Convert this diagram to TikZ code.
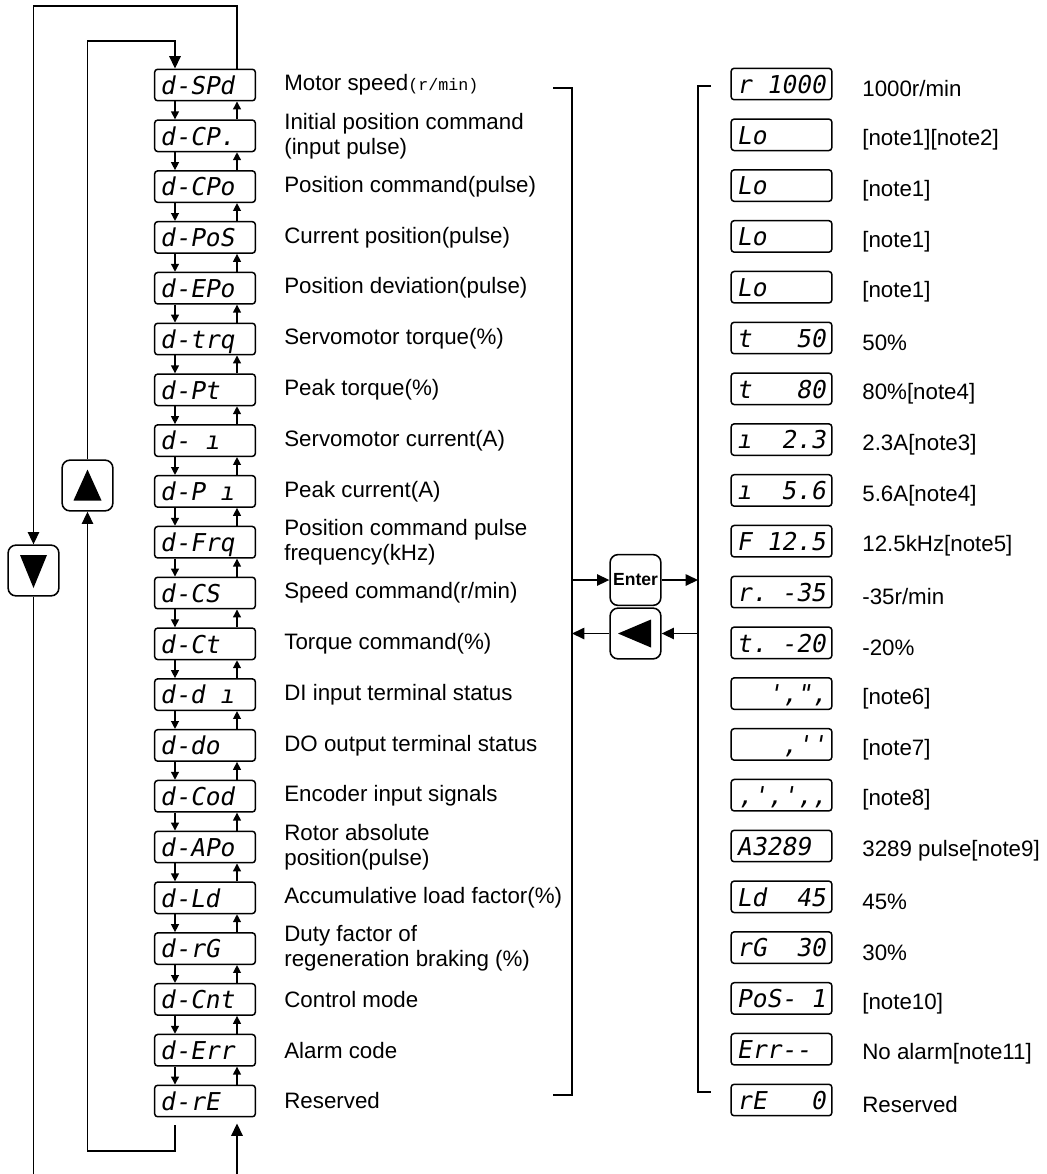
\documentclass[tikz,border=0pt]{standalone}
\usepackage{fontspec}
\setmainfont{Liberation Sans}
\newfontfamily\segfont{DejaVu Sans Mono}[FakeSlant=0.18]
\newfontfamily\unitfont{Liberation Mono}
\newcommand\cellgap{\phantom{0}}
\usetikzlibrary{arrows.meta,calc}
\tikzset{
  dispbox/.style={draw,line width=0.85pt,rounded corners=1.7pt,minimum width=57.3pt,minimum height=17.9pt,text width=51pt,align=left,inner xsep=3pt,inner ysep=0pt,text height=10.5pt,text depth=0pt,font=\segfont\fontsize{14}{14}\selectfont},
  desctext/.style={anchor=west,align=left,inner sep=0pt,font=\fontsize{12.7}{14.2}\selectfont},
  keybtn/.style={draw,line width=0.9pt,rounded corners=4.5pt,minimum width=28.9pt,minimum height=28.9pt,inner sep=0pt},
  arrow/.style={-{Triangle[length=7pt,width=6.5pt]},line width=0.75pt},
  thinArrow/.style={-{Triangle[length=4.5pt,width=4.5pt]},line width=0.75pt}
}

\begin{document}
\begin{tikzpicture}[x=0.02cm,y=-0.02cm]
\useasboundingbox (0,0) rectangle (1047,1174);
\coordinate (dnx) at (175,0);
\coordinate (upx) at (237,0);
% parameter list on the left
\foreach \i/\code/\desc in {
  0/d-SPd/{Motor speed{\unitfont\fontsize{9.5}{12}\selectfont(r/min)}},
  1/d-CP./{Initial position command\\(input pulse)},
  2/d-CPo/Position command(pulse),
  3/d-PoS/Current position(pulse),
  4/d-EPo/Position deviation(pulse),
  5/d-trq/Servomotor torque(\%),
  6/d-Pt/Peak torque(\%),
  7/d-\cellgap ı/Servomotor current(A),
  8/d-P\cellgap ı/Peak current(A),
  9/d-Frq/{Position command pulse\\frequency(kHz)},
  10/d-CS/{Speed command(r/min)},
  11/d-Ct/Torque command(\%),
  12/d-d\cellgap ı/DI input terminal status,
  13/d-do/DO output terminal status,
  14/d-Cod/Encoder input signals,
  15/d-APo/{Rotor absolute\\position(pulse)},
  16/d-Ld/Accumulative load factor(\%),
  17/d-rG/{Duty factor of\\regeneration braking (\%)},
  18/d-Cnt/Control mode,
  19/d-Err/Alarm code,
  20/d-rE/Reserved}{
  \node[dispbox] (L\i) at (205,{85+50.8*\i}) {\code};
  \node[desctext] (D\i) at (284,{85+50.8*\i}) {\desc};
}
% displayed values on the right
\foreach \i/\code/\val in {
  0/r\cellgap 1000/{1000r/min},
  1/Lo/[note1][note2],
  2/Lo/[note1],
  3/Lo/[note1],
  4/Lo/[note1],
  5/t\cellgap\cellgap\cellgap 50/50\%,
  6/t\cellgap\cellgap\cellgap 80/80\%[note4],
  7/ı\cellgap\cellgap 2.3/2.3A[note3],
  8/ı\cellgap\cellgap 5.6/5.6A[note4],
  9/F\cellgap 12.5/12.5kHz[note5],
  10/r.\cellgap-35/{-35r/min},
  11/t.\cellgap-20/-20\%,
  12/{\hfill ',",}/[note6],
  13/{\hfill ,''}/[note7],
  14/{\hfill ,',',,}/[note8],
  15/A3289/3289 pulse[note9],
  16/Ld\cellgap\cellgap 45/45\%,
  17/rG\cellgap\cellgap 30/30\%,
  18/PoS-\cellgap 1/[note10],
  19/Err--/No alarm[note11],
  20/rE\cellgap\cellgap\cellgap 0/Reserved}{
  \node[dispbox] (R\i) at (781.5,{84+50.8*\i}) {\code};
  \node[desctext] (V\i) at (862,{89+50.8*\i}) {\val};
}
\foreach \i [evaluate=\i as \j using int(\i+1)] in {0,...,19}{
  \draw[thinArrow] (L\i.south -| dnx) -- (L\j.north -| dnx);
  \draw[thinArrow] (L\j.north -| upx) -- (L\i.south -| upx);
}
% up / down keys and the loops
\coordinate (otop) at (33.5,6);
\coordinate (itop) at (87.5,41);
\coordinate (ibot) at (87.5,1151);
\coordinate (bot) at (0,1174);
\node[keybtn] (up) at (87.5,485.5) {};
\node[keybtn] (dn) at (33.5,570.5) {};
\fill ([shift={(0,-16)}]up.center) -- ([shift={(14,15)}]up.center) -- ([shift={(-14,15)}]up.center) -- cycle;
\fill ([shift={(0,17.5)}]dn.center) -- ([shift={(13.5,-15.5)}]dn.center) -- ([shift={(-13.5,-15.5)}]dn.center) -- cycle;
\draw[arrow] (L0.north -| upx) |- (otop) -- (dn.north);
\draw[line width=0.75pt] (dn.south) -- (dn.south |- bot);
\draw[arrow,shorten >=3.4pt] (bot -| upx) -- (L20.south -| upx);
\draw[arrow,shorten <=4.5pt] (L20.south -| dnx) |- (ibot) -- (up.south);
\draw[arrow] (up.north) -- (itop) -| (L0.north -| dnx);
% brackets with Enter and back keys
\coordinate (lbt) at (572,88);
\coordinate (lbb) at (572,1095);
\coordinate (rbt) at (698,86);
\coordinate (rbb) at (698,1092);
\draw[line width=0.75pt] ($(lbt)+(-19,0)$) -- (lbt) -- (lbb) -- ++(-19,0);
\draw[line width=0.75pt] ($(rbt)+(13,0)$) -- (rbt) -- (rbb) -- ++(13,0);
\node[keybtn,font=\bfseries\fontsize{10}{12}\selectfont] (enter) at (635.5,580) {Enter};
\node[keybtn] (back) at (635.5,633.5) {};
\fill ([shift={(-17.5,0)}]back.center) -- ([shift={(15.5,-14)}]back.center) -- ([shift={(15.5,14)}]back.center) -- cycle;
\draw[arrow] (enter.west -| lbt) -- (enter.west);
\draw[arrow] (enter.east) -- (enter.east -| rbt);
\draw[arrow] (back.east -| rbt) -- (back.east);
\draw[arrow] (back.west) -- (back.west -| lbt);
\end{tikzpicture}
\end{document}
